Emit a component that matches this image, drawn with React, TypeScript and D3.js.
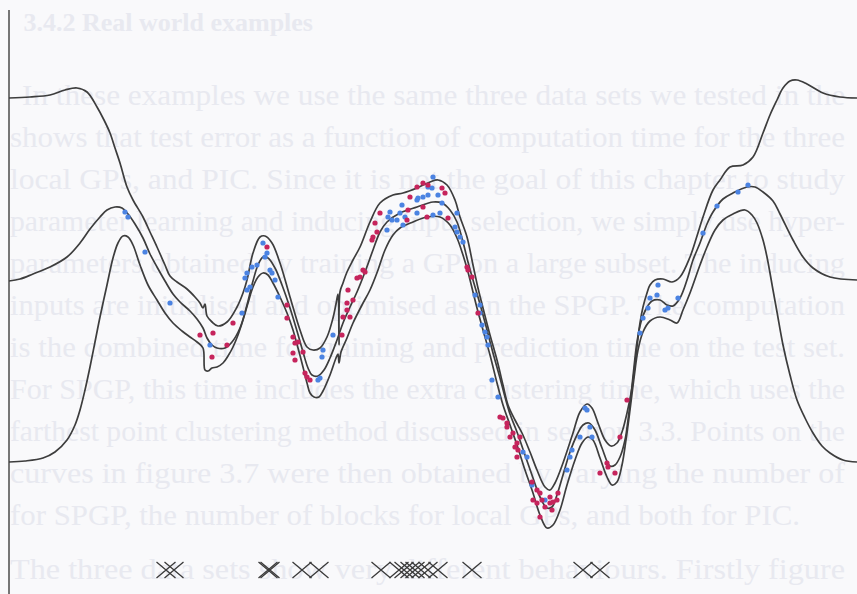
import React from 'react';
import * as d3 from 'd3';

// posterior band: upper (+2sd), mean, lower (-2sd) as [input, output]
const upperBand = [
  [0, 1.83], [0.21, 1.84], [0.41, 1.86], [0.56, 1.91], [0.68, 1.93], [0.78, 1.89], [0.88, 1.74], [0.95, 1.61],
  [1.01, 1.48], [1.06, 1.33], [1.11, 1.18], [1.18, 0.94], [1.24, 0.81], [1.34, 0.64], [1.41, 0.49], [1.48, 0.34],
  [1.56, 0.16], [1.61, 0.05], [1.68, -0.01], [1.78, -0.08], [1.86, -0.16], [1.91, -0.22], [1.94, -0.27], [1.96, -0.23],
  [1.98, -0.35], [2.03, -0.41], [2.09, -0.45], [2.18, -0.41], [2.28, -0.26], [2.34, -0.12], [2.38, 0.01], [2.44, 0.28],
  [2.51, 0.44], [2.56, 0.45], [2.63, 0.38], [2.71, 0.18], [2.81, -0.16], [2.91, -0.49], [2.98, -0.66], [3.04, -0.69],
  [3.11, -0.67], [3.18, -0.56], [3.24, -0.37], [3.27, -0.23], [3.29, -0.13], [3.3, -0.64], [3.31, -0.11], [3.34, -0.02],
  [3.38, 0.09], [3.44, 0.21], [3.51, 0.34], [3.61, 0.59], [3.71, 0.78], [3.84, 0.86], [3.94, 0.88], [4.08, 0.93],
  [4.21, 0.99], [4.29, 1.01], [4.38, 0.96], [4.46, 0.81], [4.51, 0.64], [4.58, 0.44], [4.64, 0.16], [4.69, -0.07],
  [4.74, -0.27], [4.81, -0.54], [4.88, -0.79], [4.94, -1.04], [4.99, -1.24], [5.06, -1.39], [5.13, -1.52], [5.21, -1.71],
  [5.28, -1.89], [5.36, -2.06], [5.41, -2.09], [5.46, -2.02], [5.54, -1.82], [5.64, -1.52], [5.71, -1.31], [5.78, -1.23],
  [5.83, -1.27], [5.89, -1.42], [5.96, -1.59], [6.02, -1.65], [6.08, -1.62], [6.13, -1.51], [6.18, -1.32], [6.23, -1.07],
  [6.27, -0.74], [6.31, -0.42], [6.34, -0.26], [6.38, -0.12], [6.41, -0.04], [6.46, 0.01], [6.54, 0.02], [6.63, -0.01],
  [6.71, 0.04], [6.81, 0.24], [6.88, 0.45], [6.94, 0.64], [7.04, 0.91], [7.11, 1.01], [7.21, 1.14], [7.34, 1.16],
  [7.44, 1.24], [7.54, 1.48], [7.61, 1.66], [7.68, 1.81], [7.74, 1.93], [7.81, 2.0], [7.88, 2.01], [7.98, 1.97],
  [8.14, 1.88], [8.31, 1.84], [8.48, 1.83],
];

const meanLine = [
  [0, 0], [0.11, 0.02], [0.24, 0.07], [0.41, 0.14], [0.58, 0.24], [0.71, 0.38], [0.81, 0.52], [0.91, 0.64],
  [0.98, 0.71], [1.06, 0.74], [1.13, 0.73], [1.19, 0.67], [1.26, 0.57], [1.34, 0.43], [1.41, 0.27], [1.48, 0.14],
  [1.56, 0], [1.64, -0.13], [1.71, -0.21], [1.81, -0.3], [1.88, -0.38], [1.94, -0.47], [1.98, -0.57], [2.03, -0.64],
  [2.08, -0.67], [2.16, -0.67], [2.23, -0.61], [2.31, -0.47], [2.38, -0.24], [2.44, 0], [2.49, 0.16], [2.54, 0.24],
  [2.59, 0.23], [2.66, 0.13], [2.73, -0.04], [2.81, -0.27], [2.88, -0.5], [2.94, -0.71], [2.99, -0.87], [3.03, -0.94],
  [3.09, -0.95], [3.15, -0.89], [3.21, -0.77], [3.28, -0.59], [3.34, -0.42], [3.41, -0.26], [3.48, -0.11], [3.56, 0.09],
  [3.64, 0.31], [3.71, 0.49], [3.78, 0.59], [3.91, 0.68], [4.08, 0.74], [4.24, 0.79], [4.33, 0.78], [4.41, 0.71],
  [4.48, 0.59], [4.54, 0.39], [4.59, 0.19], [4.64, 0.01], [4.71, -0.23], [4.78, -0.49], [4.84, -0.72], [4.91, -0.97],
  [4.96, -1.16], [5.01, -1.33], [5.08, -1.51], [5.16, -1.74], [5.24, -1.97], [5.31, -2.16], [5.38, -2.27], [5.43, -2.26],
  [5.48, -2.14], [5.54, -1.94], [5.61, -1.71], [5.68, -1.54], [5.74, -1.44], [5.8, -1.42], [5.86, -1.49], [5.93, -1.67],
  [6.01, -1.85], [6.06, -1.84], [6.11, -1.76], [6.16, -1.59], [6.19, -1.39], [6.22, -1.14], [6.25, -0.86], [6.28, -0.61],
  [6.32, -0.41], [6.37, -0.28], [6.43, -0.2], [6.51, -0.19], [6.58, -0.24], [6.64, -0.25], [6.71, -0.17], [6.78, 0.01],
  [6.84, 0.21], [6.91, 0.38], [6.98, 0.57], [7.04, 0.69], [7.14, 0.82], [7.24, 0.88], [7.38, 0.94], [7.46, 0.94],
  [7.54, 0.89], [7.64, 0.8], [7.71, 0.67], [7.84, 0.41], [7.94, 0.24], [8.04, 0.13], [8.21, 0.04], [8.48, 0.01],
];

const lowerBand = [
  [0, -1.81], [0.16, -1.8], [0.34, -1.77], [0.46, -1.71], [0.58, -1.59], [0.66, -1.44], [0.71, -1.29], [0.76, -1.09],
  [0.81, -0.86], [0.86, -0.61], [0.91, -0.36], [0.98, -0.04], [1.04, 0.23], [1.09, 0.38], [1.14, 0.45], [1.19, 0.44],
  [1.24, 0.36], [1.31, 0.16], [1.39, -0.04], [1.48, -0.19], [1.56, -0.32], [1.64, -0.42], [1.73, -0.5], [1.81, -0.56],
  [1.88, -0.61], [1.94, -0.67], [1.96, -0.89], [1.99, -0.9], [2.03, -0.87], [2.08, -0.86], [2.14, -0.82], [2.19, -0.75],
  [2.24, -0.66], [2.29, -0.54], [2.34, -0.39], [2.39, -0.22], [2.44, -0.06], [2.49, 0.04], [2.54, 0.08], [2.59, 0.06],
  [2.64, -0.02], [2.71, -0.16], [2.78, -0.32], [2.84, -0.49], [2.89, -0.67], [2.94, -0.86], [2.98, -1.02], [3.01, -1.12],
  [3.05, -1.16], [3.1, -1.16], [3.14, -1.1], [3.21, -0.94], [3.27, -0.77], [3.29, -0.73], [3.3, -0.82], [3.32, -0.71],
  [3.38, -0.57], [3.44, -0.42], [3.53, -0.24], [3.61, -0.09], [3.69, 0.11], [3.76, 0.31], [3.84, 0.46], [3.91, 0.53],
  [4.04, 0.59], [4.18, 0.64], [4.31, 0.64], [4.41, 0.56], [4.48, 0.43], [4.54, 0.26], [4.59, 0.09], [4.64, -0.11],
  [4.68, -0.27], [4.74, -0.49], [4.81, -0.74], [4.88, -1.02], [4.94, -1.24], [5.01, -1.44], [5.08, -1.64], [5.16, -1.89],
  [5.24, -2.12], [5.31, -2.34], [5.38, -2.47], [5.44, -2.44], [5.51, -2.29], [5.58, -2.04], [5.66, -1.79], [5.73, -1.62],
  [5.79, -1.56], [5.84, -1.59], [5.91, -1.77], [5.98, -1.96], [6.03, -2.04], [6.08, -2.01], [6.13, -1.84], [6.17, -1.59],
  [6.21, -1.29], [6.25, -0.97], [6.29, -0.69], [6.34, -0.51], [6.41, -0.4], [6.51, -0.36], [6.61, -0.39], [6.68, -0.42],
  [6.74, -0.29], [6.81, -0.12], [6.91, 0.16], [6.98, 0.34], [7.06, 0.51], [7.14, 0.61], [7.24, 0.67], [7.36, 0.71],
  [7.43, 0.66], [7.48, 0.58], [7.54, 0.41], [7.58, 0.24], [7.64, -0.09], [7.68, -0.31], [7.74, -0.64], [7.81, -0.94],
  [7.88, -1.19], [7.96, -1.37], [8.04, -1.52], [8.13, -1.65], [8.21, -1.72], [8.34, -1.79], [8.48, -1.81],
];

// observations
const blueObs = [
  [1.16, 0.69], [1.19, 0.64], [1.36, 0.29], [1.61, -0.22], [2.01, -0.64], [2.33, -0.32], [2.36, 0.03], [2.38, 0.08],
  [2.38, -0.09], [2.41, -0.06], [2.43, 0.14], [2.48, 0.16], [2.54, 0.38], [2.56, 0.24], [2.58, 0.28], [2.61, 0.11],
  [2.63, 0.08], [2.66, 0.01], [2.69, -0.16], [3.09, -0.99], [3.11, -0.97], [3.13, -0.76], [3.14, -0.69], [3.24, -0.54],
  [3.78, 0.51], [3.79, 0.64], [3.81, 0.69], [3.83, 0.61], [3.88, 0.61], [3.91, 0.68], [3.93, 0.76], [3.94, 0.56],
  [3.96, 0.64], [4.08, 0.81], [4.08, 0.68], [4.09, 0.83], [4.14, 0.84], [4.19, 0.86], [4.19, 0.94], [4.23, 0.93],
  [4.24, 1.04], [4.24, 0.66], [4.29, 0.86], [4.31, 0.68], [4.33, 0.78], [4.46, 0.54], [4.48, 0.68], [4.48, 0.49],
  [4.51, 0.44], [4.54, 0.39], [4.66, -0.14], [4.71, -0.24], [4.71, -0.32], [4.73, -0.44], [4.76, -0.51], [4.78, -0.56],
  [4.79, -0.64], [4.83, -0.99], [4.89, -1.16], [5.14, -1.71], [5.18, -1.76], [5.23, -2.04], [5.36, -2.19], [5.58, -1.89],
  [5.61, -1.76], [5.63, -1.69], [5.71, -1.56], [5.76, -1.27], [5.78, -1.29], [5.81, -1.46], [5.83, -1.56], [6.31, -0.52],
  [6.34, -0.37], [6.39, -0.27], [6.41, -0.17], [6.48, -0.14], [6.49, -0.04], [6.56, -0.29], [6.59, -0.27], [6.69, -0.17],
  [6.94, 0.48], [7.08, 0.75], [7.29, 0.89], [7.39, 0.96],
];

const redObs = [
  [1.91, -0.54], [2.04, -0.52], [2.03, -0.76], [2.18, -0.64], [2.24, -0.42], [2.58, 0.34], [2.78, -0.24], [2.78, -0.37],
  [2.84, -0.56], [2.86, -0.62], [2.84, -0.72], [2.86, -0.79], [2.89, -0.61], [2.94, -0.71], [2.96, -0.92], [2.98, -0.96],
  [3.01, -0.99], [3.33, -0.54], [3.34, -0.36], [3.38, -0.22], [3.38, -0.29], [3.39, -0.09], [3.41, -0.36], [3.44, -0.19],
  [3.48, 0.03], [3.51, 0.04], [3.54, 0.11], [3.56, 0.09], [3.63, 0.41], [3.64, 0.44], [3.66, 0.58], [3.68, 0.49],
  [3.71, 0.68], [3.98, 0.61], [3.99, 0.71], [4.01, 0.84], [4.08, 0.94], [4.14, 0.98], [4.14, 0.74], [4.18, 0.64],
  [4.19, 0.96], [4.33, 0.93], [4.36, 0.88], [4.39, 0.63], [4.58, 0.14], [4.59, 0.11], [4.63, 0.04], [4.69, -0.32],
  [4.91, -1.36], [4.94, -1.37], [4.98, -1.42], [4.98, -1.46], [5.01, -1.56], [5.04, -1.52], [5.06, -1.66], [5.08, -1.62],
  [5.08, -1.76], [5.09, -1.69], [5.11, -1.56], [5.23, -2.01], [5.24, -2.19], [5.28, -2.09], [5.28, -2.22], [5.31, -2.12],
  [5.31, -2.36], [5.33, -2.19], [5.36, -2.26], [5.41, -2.16], [5.41, -2.22], [5.43, -2.29], [5.44, -2.21], [5.48, -2.19],
  [5.49, -2.12], [5.91, -1.92], [5.98, -1.82], [5.99, -1.86], [6.06, -1.92], [6.11, -1.56], [6.18, -1.19],
];

// inducing input locations (crosses along the bottom)
const inducingInputs = [
  1.57, 1.65, 2.59, 2.61, 2.93, 3.1, 3.72, 3.9, 3.95, 4.01, 4.06, 4.12, 4.19, 4.29, 4.63, 5.74, 5.91,
];
const crossLevel = -2.89;

// faint text showing through the page
const pageHeading = '3.4.2   Real world examples';
const pageLines = [
  'In these examples we use the same three data sets we tested in the',
  'shows that test error as a function of computation time for the three',
  'local GPs, and PIC. Since it is not the goal of this chapter to study',
  'parameter learning and inducing input selection, we simply use hyper-',
  'parameters obtained by training a GP on a large subset. The inducing',
  'inputs are initialised and optimised as in the SPGP. The computation',
  'is the combined time for training and prediction time on the test set.',
  'For SPGP, this time includes the extra clustering time, which uses the',
  'farthest point clustering method discussed in section 3.3. Points on the',
  'curves in figure 3.7 were then obtained by varying the number of',
  'for SPGP, the number of blocks for local GPs, and both for PIC.',
  'The three data sets show very different behaviours. Firstly figure',
];
const paragraphEnd = 10;

const W = 857;
const H = 594;

export default function App() {
  const x = d3.scaleLinear().domain([0, 8.48]).range([9, W]);
  const y = d3.scaleLinear().domain([-3.13, 2.81]).range([H, 0]);

  const line = d3
    .line<number[]>()
    .x((d) => x(d[0]))
    .y((d) => y(d[1]))
    .curve(d3.curveCatmullRom.alpha(0.5));

  const cross = (cx: number, cy: number) =>
    `M${cx - 9.5},${cy - 8}L${cx + 9.5},${cy + 8}M${cx - 9.5},${cy + 8}L${cx + 9.5},${cy - 8}`;

  return (
    <svg
      width={W}
      height={H}
      style={{ position: 'absolute', left: 0, top: 0, display: 'block' }}
    >
      <rect width={W} height={H} fill='#f9f9fb' />

      <g fill='#e8e9f0' fontFamily='Liberation Serif, serif'>
        <text x={313} y={31} fontSize={26} fontWeight='bold' textAnchor='end'>
          {pageHeading}
        </text>
        {pageLines.map((t, i) => {
          const x0 = i === 0 ? 22 : 10;
          return (
            <text
              key={i}
              x={x0}
              y={105 + i * 42 + (i === pageLines.length - 1 ? 12 : 0)}
              fontSize={30}
              textLength={(i === paragraphEnd ? 800 : 845) - x0}
              lengthAdjust='spacingAndGlyphs'
            >
              {t}
            </text>
          );
        })}
      </g>

      <line x1={x(0)} x2={x(0)} y1={y(2.71)} y2={H} stroke='#4a4a4a' strokeWidth={1.5} />

      <g fill='none' stroke='#3d3d3d' strokeWidth={1.7} strokeLinejoin='round'>
        <path d={line(upperBand) || ''} />
        <path d={line(meanLine) || ''} />
        <path d={line(lowerBand) || ''} />
      </g>

      <g fill='#4b83e2'>
        {blueObs.map((d, i) => (
          <circle key={i} cx={x(d[0])} cy={y(d[1])} r={2.6} />
        ))}
      </g>
      <g fill='#c6245c'>
        {redObs.map((d, i) => (
          <circle key={i} cx={x(d[0])} cy={y(d[1])} r={2.6} />
        ))}
      </g>

      <g stroke='#3a3a3a' strokeWidth={1.3} fill='none'>
        {inducingInputs.map((v, i) => (
          <path key={i} d={cross(x(v), y(crossLevel))} />
        ))}
      </g>
    </svg>
  );
}
